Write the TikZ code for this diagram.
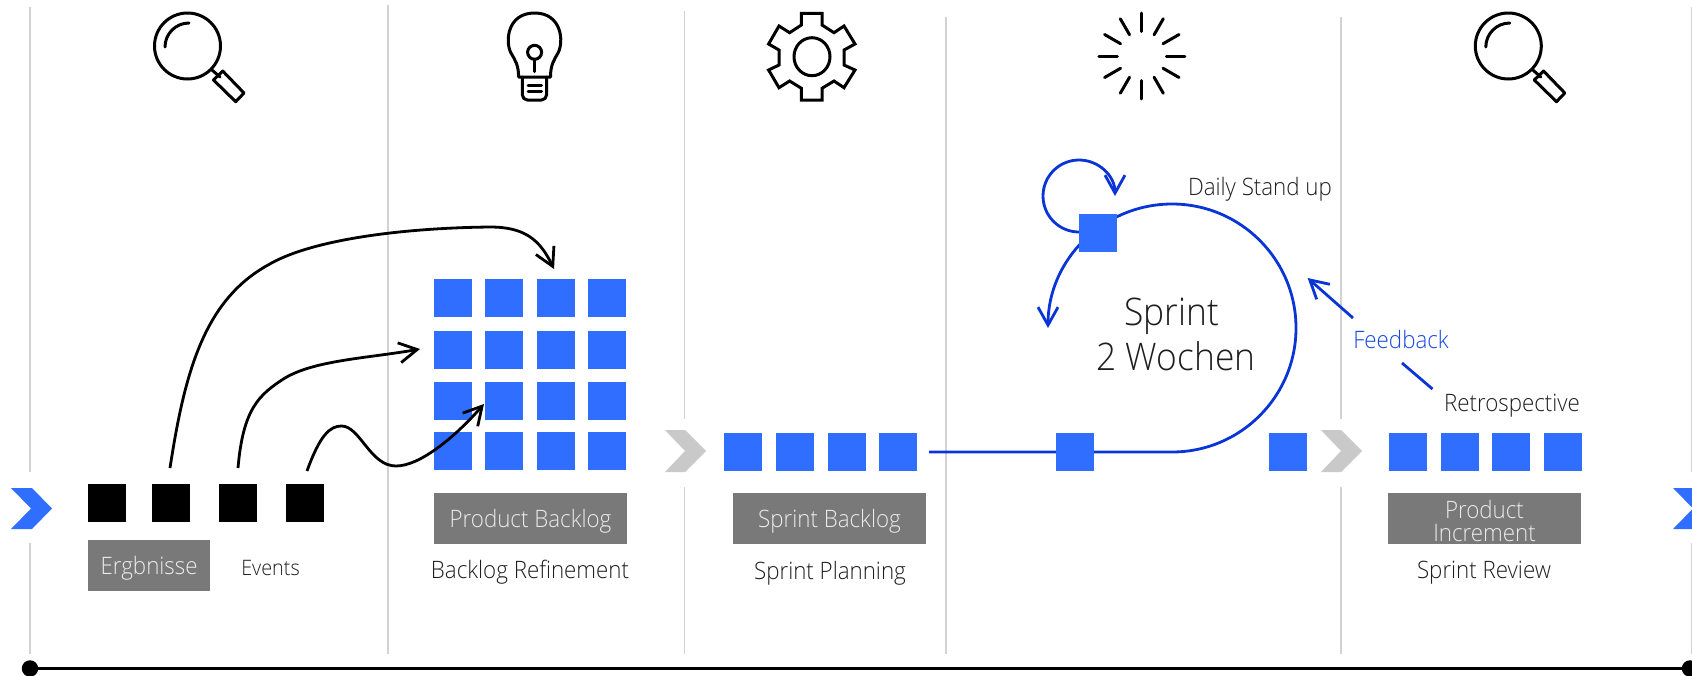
\documentclass[tikz,border=0pt]{standalone}
\usepackage{fontspec}
\setmainfont{Open Sans Light}[FakeStretch=0.93]
\usetikzlibrary{arrows.meta,calc}
\definecolor{bluesq}{HTML}{2F6EFF}
\definecolor{bluel}{HTML}{0A35D6}
\definecolor{greybox}{HTML}{797979}
\definecolor{greyl}{HTML}{D2D2D2}
\definecolor{greychev}{HTML}{C9C9C9}
\definecolor{txt}{HTML}{1E1E1E}
\tikzset{
 sq/.style={fill=bluesq,inner sep=0pt,minimum size=38pt,draw=none},
 blk/.style={fill=black,inner sep=0pt,minimum size=38pt,draw=none},
 gbox/.style={fill=greybox,inner sep=0pt,text=white!92!black,font=\fontsize{24}{23}\selectfont},
 lab/.style={text=txt,inner sep=0pt,font=\fontsize{24}{26}\selectfont,align=center},
 vline/.style={draw=greyl,line width=1.7pt},
 curve/.style={draw=black,line width=2.8pt,-{Straight Barb[length=18pt,width=20pt,line width=2.8pt]}},
 bcurve/.style={draw=bluel,line width=2.8pt},
 barb/.style={-{Straight Barb[length=18pt,width=20pt,line width=2.8pt]}},
 icon/.style={draw=black,line width=3pt,line cap=round,line join=round},
}
\begin{document}
\begin{tikzpicture}[x=1pt,y=-1pt]
\clip (0,0) rectangle (1692,675);
\path[use as bounding box] (0,0) rectangle (1692,675);
% vertical rules
\foreach \x/\a/\b/\c/\d in {30/7/472/543/654,684.5/11/419/487/654,1341/17/419/487/654,1691.5/7/472/543/654}{
 \draw[vline] (\x,\a) -- (\x,\b);
 \draw[vline] (\x,\c) -- (\x,\d);
}
\draw[vline] (388,5) -- (388,654);
\draw[vline] (946,17) -- (946,654);
% timeline
\node[circle,fill=black,inner sep=0pt,minimum size=16.5pt] (tl) at (30,668.5) {};
\node[circle,fill=black,inner sep=0pt,minimum size=16.5pt] (tr) at (1690,668.5) {};
\draw[black,line width=3.2pt] (tl) -- (tr);
% chevrons
\fill[bluesq] (11,488) -- (32,488) -- (52,508.5) -- (32,529) -- (11,529) -- (31,508.5) -- cycle;
\fill[bluesq] (1673,488) -- (1694,488) -- (1714,508.5) -- (1694,529) -- (1673,529) -- (1693,508.5) -- cycle;
\fill[greychev] (665,430) -- (685,430) -- (706,451) -- (685,472) -- (665,472) -- (685,451) -- cycle;
\fill[greychev] (1321,430) -- (1341,430) -- (1362,451) -- (1341,472) -- (1321,472) -- (1341,451) -- cycle;
% sprint loop
\coordinate (ss) at (929,452);
\coordinate (sb) at (1172,452);
\draw[bcurve,barb] (ss) -- (sb) arc[start angle=270,delta angle=270,radius=124pt];
\coordinate (ls) at (1079,232);
\draw[bcurve,barb] (ls) arc[start angle=270,delta angle=-270,radius=36pt];
\coordinate (f1) at (1353,318);
\coordinate (f2) at (1307.6,278);
\coordinate (f3) at (1402,363);
\coordinate (f4) at (1432.5,389);
\draw[bcurve,barb] (f1) -- (f2);
\draw[bcurve] (f3) -- (f4);
% grid
\foreach \c/\x in {a/453,b/504,c/556,d/607}{
 \foreach \r/\y in {1/298,2/350,3/401,4/451}{
  \node[sq] (g\c\r) at (\x,\y) {};
 }
}
% black
\node[blk] (k1) at (107,503) {};
\node[blk] (k2) at (171,503) {};
\node[blk] (k3) at (238,503) {};
\node[blk] (k4) at (305,503) {};
% backlog squares
\node[sq] (s1) at (743,452) {};
\node[sq] (s2) at (795,452) {};
\node[sq] (s3) at (846.5,452) {};
\node[sq] (s4) at (898,452) {};
\node[sq] (m1) at (1075,452) {};
\node[sq] (m2) at (1288,452) {};
\node[sq] (top) at (1098,233) {};
\node[sq] (i1) at (1408,452) {};
\node[sq] (i2) at (1460,452) {};
\node[sq] (i3) at (1511,452) {};
\node[sq] (i4) at (1563,452) {};
% black curves
\coordinate (c1s) at (170,468);
\coordinate (c1e) at (554,269);
\coordinate (c2s) at (238,468);
\coordinate (c2e) at (420,349);
\coordinate (c3s) at (307,471);
\coordinate (c3e) at (484,404);
\draw[curve] (c1s) .. controls (185,370) and (205,300) .. (268,265) .. controls (310,240) and (400,228) .. (490,227) .. controls (525,227) and (540,240) .. (c1e);
\draw[curve] (c2s) .. controls (243,410) and (258,395) .. (285,378) .. controls (315,360) and (370,358) .. (c2e);
\draw[curve] (c3s) .. controls (320,435) and (330,426) .. (341.5,426) .. controls (360,426) and (370,466) .. (396,466) .. controls (420,466) and (455,437) .. (c3e);
% grey boxes
\node[gbox,minimum width=122pt,minimum height=51pt] (b1) at (149,565.5) {\raisebox{-9pt}[0pt][0pt]{Ergbnisse}};
\node[gbox,minimum width=193pt,minimum height=51pt] (b2) at (530.5,518.5) {\raisebox{-9pt}[0pt][0pt]{Product Backlog}};
\node[gbox,minimum width=193pt,minimum height=51pt] (b3) at (829.5,518.5) {\raisebox{-9pt}[0pt][0pt]{Sprint Backlog}};
\node[gbox,minimum width=193pt,minimum height=51pt] (b4) at (1484.5,518.5) {};
\node[gbox,inner sep=0pt,align=center] (b4t) at (1484.5,520.5) {Product\\Increment};
% labels
\node[lab,font=\fontsize{21.3}{24}\selectfont] (ev) at (270.5,568) {Events};
\node[lab] (br) at (530,572.5) {Backlog Refinement};
\node[lab] (sp) at (830,573.5) {Sprint Planning};
\node[lab] (sr) at (1484,572.5) {Sprint Review};
\node[lab] (ds) at (1260,189.5) {Daily Stand up};
\node[lab] (re) at (1512,405.5) {Retrospective};
\node[lab,text=bluel!70!bluesq] (fb) at (1401,339) {Feedback};
\node[lab,font=\fontsize{38}{45}\selectfont] (w1) at (1172,316) {Sprint};
\node[lab,font=\fontsize{38}{45}\selectfont] (w2) at (1176,356) {2 Wochen};
% magnifiers
\foreach \d in {0,1320.8}{
 \begin{scope}[xshift=\d pt]
 \draw[icon] (187.5,46) circle[radius=33pt];
 \draw[icon] (165,47) arc[start angle=180,end angle=90,radius=24pt];
 \draw[icon] (212,70) -- (220,77);
 \draw[icon] (222.7,71) -- (244,93) -- (235.7,101.7) -- (213.5,80) -- cycle;
 \end{scope}
}
% bulb
\draw[icon] (518.6,77) .. controls (518.6,65) and (515,60) .. (511,53) .. controls (505,42) and (507,13) .. (534.6,13) .. controls (562,13) and (564,42) .. (558,53) .. controls (554,60) and (550.5,65) .. (550.5,77) -- cycle;
\draw[icon] (522.4,77) -- (522.4,95) arc[start angle=180,end angle=270,radius=5pt] -- (541.5,100) arc[start angle=270,end angle=360,radius=5pt] -- (546.5,77);
\draw[icon] (534.6,52.3) circle[radius=7pt];
\draw[icon] (534.6,59.3) -- (534.6,71.7);
\draw[icon] (528,85.7) -- (541.5,85.7);
\draw[icon] (528,91.3) -- (541.5,91.3);
% gear
\draw[icon,line join=miter] (801.4,13.3) -- (822,13.3) -- (822,25) -- (834,32.7) -- (844,26) -- (855,44) -- (844,50) -- (844,65) -- (855,70) -- (844,87.7) -- (834,81) -- (822,88.3) -- (822,100) -- (801.4,100) -- (801.4,88.3) -- (789.6,81) -- (779,87.7) -- (768.6,70) -- (779,65) -- (779,50) -- (768.6,44) -- (779,26) -- (789.6,32.7) -- (801.4,25) -- cycle;
\draw[icon] (812,56.7) circle[x radius=18pt,y radius=19pt];
% burst
\foreach \a in {0,30,...,330}{
 \draw[icon] ($(1141.8,56)+(\a:24.5pt)$) -- ($(1141.8,56)+(\a:43pt)$);
}
\end{tikzpicture}
\end{document}
